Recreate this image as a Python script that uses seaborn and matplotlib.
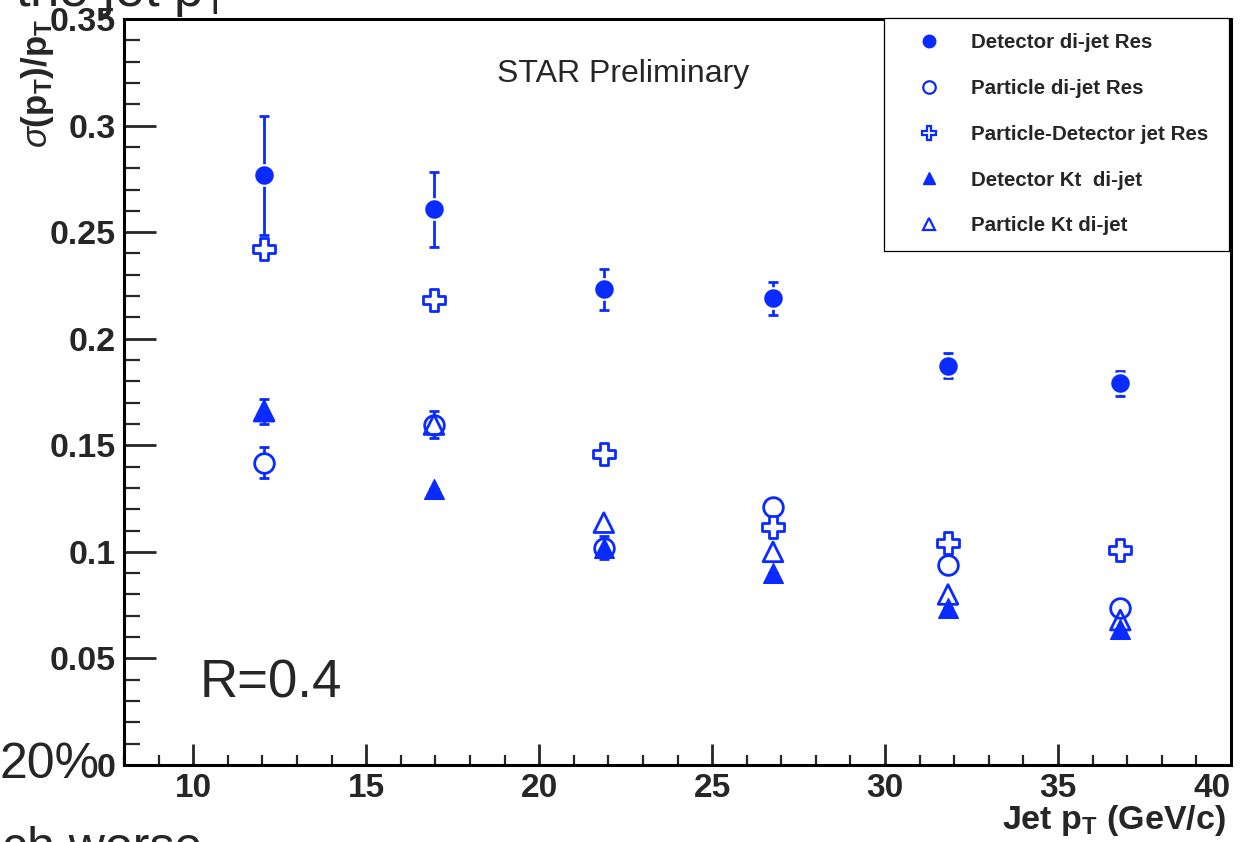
import numpy as np
import pandas as pd
import matplotlib
matplotlib.use("Agg")
import matplotlib.pyplot as plt
import seaborn as sns
from matplotlib.lines import Line2D
from matplotlib.ticker import MultipleLocator, FixedLocator

# ---------------- data ----------------
jet_pt = [12.05, 16.96, 21.87, 26.76, 31.82, 36.8]

det_dijet = [0.2767, 0.2607, 0.2231, 0.2189, 0.1874, 0.1790]
det_dijet_err = [0.0280, 0.0175, 0.0094, 0.0077, 0.0060, 0.0060]

part_dijet = [0.1419, 0.1597, 0.1020, 0.1210, 0.0940, 0.0738]
part_dijet_err = [0.0073, 0.0065, 0.0054, 0.0, 0.0, 0.0]

part_det = [0.2420, 0.2180, 0.1460, 0.1118, 0.1043, 0.1010]

det_kt = [0.1660, 0.1297, 0.1020, 0.0900, 0.0738, 0.0640]
det_kt_err = [0.0058, 0.0, 0.0, 0.0, 0.0, 0.0]

part_kt = [0.1660, 0.1597, 0.1137, 0.1000, 0.0800, 0.0680]

labels = ["Detector di-jet Res", "Particle di-jet Res", "Particle-Detector jet Res",
          "Detector Kt  di-jet", "Particle Kt di-jet"]
xticks = [10, 15, 20, 25, 30, 35, 40]
yticks = [0, 0.05, 0.1, 0.15, 0.2, 0.25, 0.3, 0.35]
ytick_labels = ["0", "0.05", "0.1", "0.15", "0.2", "0.25", "0.3", "0.35"]

# ---------------- style ----------------
sns.set_theme(style="white")
plt.rcParams["font.family"] = ["Liberation Sans", "DejaVu Sans"]
plt.rcParams["mathtext.fontset"] = "custom"
plt.rcParams["mathtext.rm"] = "Liberation Sans"
plt.rcParams["mathtext.bf"] = "Liberation Sans:bold"
plt.rcParams["mathtext.it"] = "Liberation Sans:italic"

BLUE = "#0a2bff"

fig = plt.figure(figsize=(12.46, 8.42), dpi=100)
ax = fig.add_axes([124 / 1246, 77 / 842, (1231 - 124) / 1246, (765 - 19) / 842])

df = pd.DataFrame({"pt": jet_pt, "det_dijet": det_dijet, "part_dijet": part_dijet,
                   "part_det": part_det, "det_kt": det_kt, "part_kt": part_kt})

# error bars
for yv, ye in [(det_dijet, det_dijet_err), (part_dijet, part_dijet_err), (det_kt, det_kt_err)]:
    ax.errorbar(jet_pt, yv, yerr=ye, fmt="none", ecolor=BLUE,
                elinewidth=2, capsize=3.5, capthick=2, zorder=1)

ms = 200
sns.scatterplot(data=df, x="pt", y="part_dijet", marker="o", s=ms, facecolor="white",
                edgecolor=BLUE, linewidth=2, ax=ax, zorder=2)
sns.scatterplot(data=df, x="pt", y="part_det", marker="P", s=ms * 1.15, facecolor="white",
                edgecolor=BLUE, linewidth=2, ax=ax, zorder=3)
sns.scatterplot(data=df, x="pt", y="part_kt", marker="^", s=ms, facecolor="none",
                edgecolor=BLUE, linewidth=2, ax=ax, zorder=4)
sns.scatterplot(data=df, x="pt", y="det_kt", marker="^", s=ms, color=BLUE,
                edgecolor=BLUE, linewidth=1, ax=ax, zorder=5)
sns.scatterplot(data=df, x="pt", y="det_dijet", marker="o", s=ms * 1.1, color=BLUE,
                edgecolor="white", linewidth=1.5, ax=ax, zorder=6)

# axes
ax.set_xlim(8, 40)
ax.set_ylim(0, 0.35)
ax.xaxis.set_major_locator(FixedLocator(xticks))
ax.set_xticklabels([str(t) for t in xticks])
ax.xaxis.set_minor_locator(MultipleLocator(1))
ax.yaxis.set_major_locator(FixedLocator(yticks))
ax.set_yticklabels(ytick_labels)
ax.yaxis.set_minor_locator(MultipleLocator(0.01))
ax.tick_params(axis="x", which="major", direction="in", length=15, width=2, pad=5.5,
               labelsize=24, bottom=True, top=False)
ax.tick_params(axis="x", which="minor", direction="in", length=7.5, width=1.6,
               bottom=True, top=False)
ax.tick_params(axis="y", which="major", direction="in", length=23, width=2, pad=6,
               labelsize=24.5, left=True, right=False)
ax.tick_params(axis="y", which="minor", direction="in", length=11.5, width=1.6,
               left=True, right=False)
for lab in ax.get_xticklabels() + ax.get_yticklabels():
    lab.set_fontweight("bold")
ax.get_xticklabels()[-1].set_horizontalalignment("right")
for sp in ax.spines.values():
    sp.set_visible(True)
    sp.set_color("black")
    sp.set_linewidth(2.2)
ax.set_xlabel("")
ax.set_ylabel("")

# axis titles (ROOT style, aligned to the axis ends)
fig.text(1226 / 1246, 1 - 829 / 842, r"Jet p$_\mathbf{T}$ (GeV/c)", ha="right",
         va="baseline", fontsize=24.5, fontweight="bold")
fig.text(38 / 1246, 1 - 19 / 842, r"$\sigma$(p$_\mathbf{T}$)/p$_\mathbf{T}$",
         rotation=90, ha="center", va="top", fontsize=25, fontweight="bold")

# annotations
fig.text(623 / 1246, 1 - 74 / 842, "STAR Preliminary", ha="center", va="center", fontsize=23)
fig.text(200 / 1246, 1 - 683 / 842, "R=0.4", ha="left", va="center", fontsize=38)

# legend
handles = [
    Line2D([], [], ls="none", marker="o", ms=9, mfc=BLUE, mec=BLUE),
    Line2D([], [], ls="none", marker="o", ms=9, mfc="white", mec=BLUE, mew=1.6),
    Line2D([], [], ls="none", marker="P", ms=10, mfc="white", mec=BLUE, mew=1.6),
    Line2D([], [], ls="none", marker="^", ms=9, mfc=BLUE, mec=BLUE),
    Line2D([], [], ls="none", marker="^", ms=9, mfc="white", mec=BLUE, mew=1.6),
]
x0 = (884 - 124) / (1231 - 124)
w = (1229 - 884) / (1231 - 124)
y1 = (765 - 18) / (765 - 19)
h = (251 - 18) / (765 - 19)
leg = ax.legend(handles, labels, loc="upper left", bbox_to_anchor=(x0, y1 - h, w, h),
                mode="expand", borderaxespad=0, frameon=True, fancybox=False,
                edgecolor="black", framealpha=1, borderpad=0.75, handlelength=2.85,
                handletextpad=0.65, labelspacing=1.3, prop={"weight": "bold", "size": 14.8})
leg.get_frame().set_linewidth(0.9)
leg.set_zorder(10)

# partially visible slide text around the chart
fig.text(15 / 1246, 1 - 6 / 842, r"the jet p$_\mathrm{T}$", ha="left", va="baseline",
         fontsize=38)
fig.text(100 / 1246, 1 - 778 / 842, "20%", ha="right", va="baseline", fontsize=36)
fig.text(2 / 1246, 1 - 862 / 842, "ch worse", ha="left", va="baseline", fontsize=36)

fig.savefig("out.png", dpi=100)
